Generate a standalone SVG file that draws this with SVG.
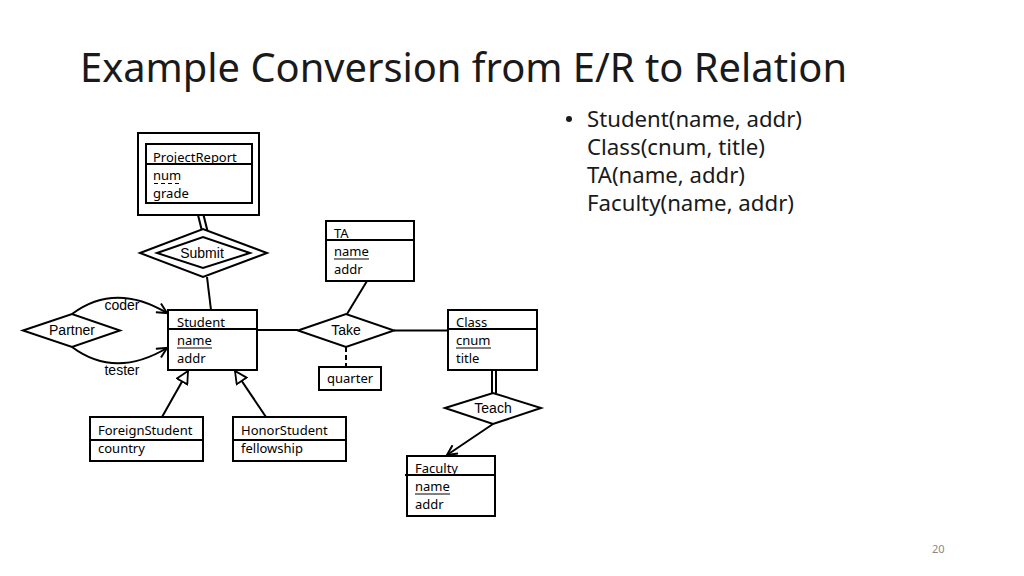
<svg xmlns="http://www.w3.org/2000/svg" width="1024" height="576" viewBox="0 0 1024 576">
<style>
.box{fill:#fff;stroke:#000;stroke-width:2}
.ln{fill:none;stroke:#000;stroke-width:2}
.t{font-family:"Noto Sans","Open Sans",sans-serif;font-size:13px;fill:#000}
.a{font-family:"Liberation Sans",Arial,sans-serif;font-size:14px;fill:#000;text-anchor:middle}
.big{font-family:"Noto Sans","Open Sans",sans-serif;fill:#1a1a1a}
</style>
<defs>
<marker id="open" viewBox="0 0 12 12" refX="11" refY="6" markerWidth="12" markerHeight="12" markerUnits="userSpaceOnUse" orient="auto">
<path d="M1,1 L11,6 L1,11" fill="none" stroke="#000" stroke-width="2"/>
</marker>
<marker id="tri" viewBox="0 0 14 14" refX="13" refY="7" markerWidth="14" markerHeight="14" markerUnits="userSpaceOnUse" orient="auto">
<path d="M1,1 L13,7 L1,13 Z" fill="#fff" stroke="#000" stroke-width="1.8"/>
</marker>
</defs>
<rect width="1024" height="576" fill="#fff"/>
<text class="big" x="80" y="82" font-size="40" textLength="767" lengthAdjust="spacingAndGlyphs">Example Conversion from E/R to Relation</text>
<g id="bullets" class="big" font-size="22">
<circle cx="569" cy="119" r="3" fill="#1a1a1a"/>
<text x="587" y="127" textLength="215" lengthAdjust="spacingAndGlyphs">Student(name, addr)</text>
<text x="587" y="155" textLength="178" lengthAdjust="spacingAndGlyphs">Class(cnum, title)</text>
<text x="587" y="183" textLength="158" lengthAdjust="spacingAndGlyphs">TA(name, addr)</text>
<text x="587" y="211" textLength="207" lengthAdjust="spacingAndGlyphs">Faculty(name, addr)</text>
</g>
<text x="932" y="553" font-family="Noto Sans, sans-serif" font-size="11" fill="#888">20</text>

<g id="connectors">
<line class="ln" x1="198" y1="215" x2="202" y2="231"/>
<line class="ln" x1="203.5" y1="215" x2="207.5" y2="231"/>
<line class="ln" x1="207" y1="277" x2="211" y2="310"/>
<path class="ln" d="M72,314 Q115,282 167,313" marker-end="url(#open)"/>
<path class="ln" d="M72,347 Q115,379 167,348" marker-end="url(#open)"/>
<line class="ln" x1="257" y1="330" x2="298" y2="330"/>
<line class="ln" x1="394" y1="330.5" x2="448" y2="330.5"/>
<line class="ln" x1="367" y1="281" x2="347" y2="314"/>
<line class="ln" x1="346" y1="347" x2="346" y2="367" stroke-dasharray="5,3"/>
<line class="ln" x1="492" y1="370" x2="492" y2="393"/>
<line class="ln" x1="496" y1="370" x2="496" y2="393"/>
<line class="ln" x1="493" y1="424" x2="447" y2="455" marker-end="url(#open)"/>
<line class="ln" x1="162" y1="417" x2="188" y2="371" marker-end="url(#tri)"/>
<line class="ln" x1="266" y1="417" x2="235" y2="371" marker-end="url(#tri)"/>
<text class="a" x="122" y="310" font-size="13">coder</text>
<text class="a" x="122" y="375" font-size="13">tester</text>
</g>

<g id="ProjectReport">
<rect class="box" x="138" y="133" width="121" height="82"/>
<rect class="box" x="146" y="144" width="106" height="59"/>
<line class="ln" x1="146" y1="164" x2="252" y2="164"/>
<text class="t" x="153" y="162">ProjectReport</text>
<text class="t" x="153" y="180">num</text>
<line x1="154" y1="183.5" x2="180" y2="183.5" stroke="#000" stroke-width="1" stroke-dasharray="4,3"/>
<text class="t" x="153" y="198">grade</text>
</g>

<g id="Submit">
<polygon class="box" points="140,253 203,229 267,253 203,277"/>
<polygon class="ln" points="157,253 203,237 250,253 203,268"/>
<text class="a" x="202" y="258">Submit</text>
</g>

<g id="Partner">
<polygon class="box" points="23,330.5 72,314 120,330.5 72,347"/>
<text class="a" x="72" y="335">Partner</text>
</g>

<g id="Student">
<rect class="box" x="168" y="310" width="89" height="60"/>
<line class="ln" x1="168" y1="329" x2="257" y2="329"/>
<text class="t" x="177" y="327">Student</text>
<text class="t" x="177" y="345">name</text>
<line x1="177" y1="348" x2="212" y2="348" stroke="#000" stroke-width="1"/>
<text class="t" x="177" y="363">addr</text>
</g>

<g id="TA">
<rect class="box" x="326" y="221" width="88" height="60"/>
<line class="ln" x1="326" y1="240" x2="414" y2="240"/>
<text class="t" x="334" y="238">TA</text>
<text class="t" x="334" y="256">name</text>
<line x1="334" y1="259" x2="369" y2="259" stroke="#000" stroke-width="1"/>
<text class="t" x="334" y="274">addr</text>
</g>

<g id="Take">
<polygon class="box" points="298,330.5 346,314 394,330.5 346,347"/>
<text class="a" x="346" y="335">Take</text>
</g>

<g id="quarter">
<rect class="box" x="319" y="367" width="62" height="23"/>
<text class="t" x="327" y="383" font-size="12">quarter</text>
</g>

<g id="Class">
<rect class="box" x="448" y="310" width="89" height="60"/>
<line class="ln" x1="448" y1="329" x2="537" y2="329"/>
<text class="t" x="456" y="327">Class</text>
<text class="t" x="456" y="345">cnum</text>
<line x1="456" y1="348" x2="491" y2="348" stroke="#000" stroke-width="1"/>
<text class="t" x="456" y="363">title</text>
</g>

<g id="Teach">
<polygon class="box" points="445,408 493,393 541,408 493,424"/>
<text class="a" x="493" y="413">Teach</text>
</g>

<g id="Faculty">
<rect class="box" x="407" y="456" width="88" height="60"/>
<line class="ln" x1="405" y1="475" x2="495" y2="475"/>
<text class="t" x="415" y="473">Faculty</text>
<text class="t" x="415" y="491">name</text>
<line x1="415" y1="494" x2="450" y2="494" stroke="#000" stroke-width="1"/>
<text class="t" x="415" y="509">addr</text>
</g>

<g id="ForeignStudent">
<rect class="box" x="90" y="417" width="113" height="44"/>
<line class="ln" x1="90" y1="440" x2="203" y2="440"/>
<text class="t" x="98" y="435">ForeignStudent</text>
<text class="t" x="98" y="453">country</text>
</g>

<g id="HonorStudent">
<rect class="box" x="233" y="417" width="113" height="44"/>
<line class="ln" x1="233" y1="440" x2="346" y2="440"/>
<text class="t" x="241" y="435">HonorStudent</text>
<text class="t" x="241" y="453">fellowship</text>
</g>
</svg>
